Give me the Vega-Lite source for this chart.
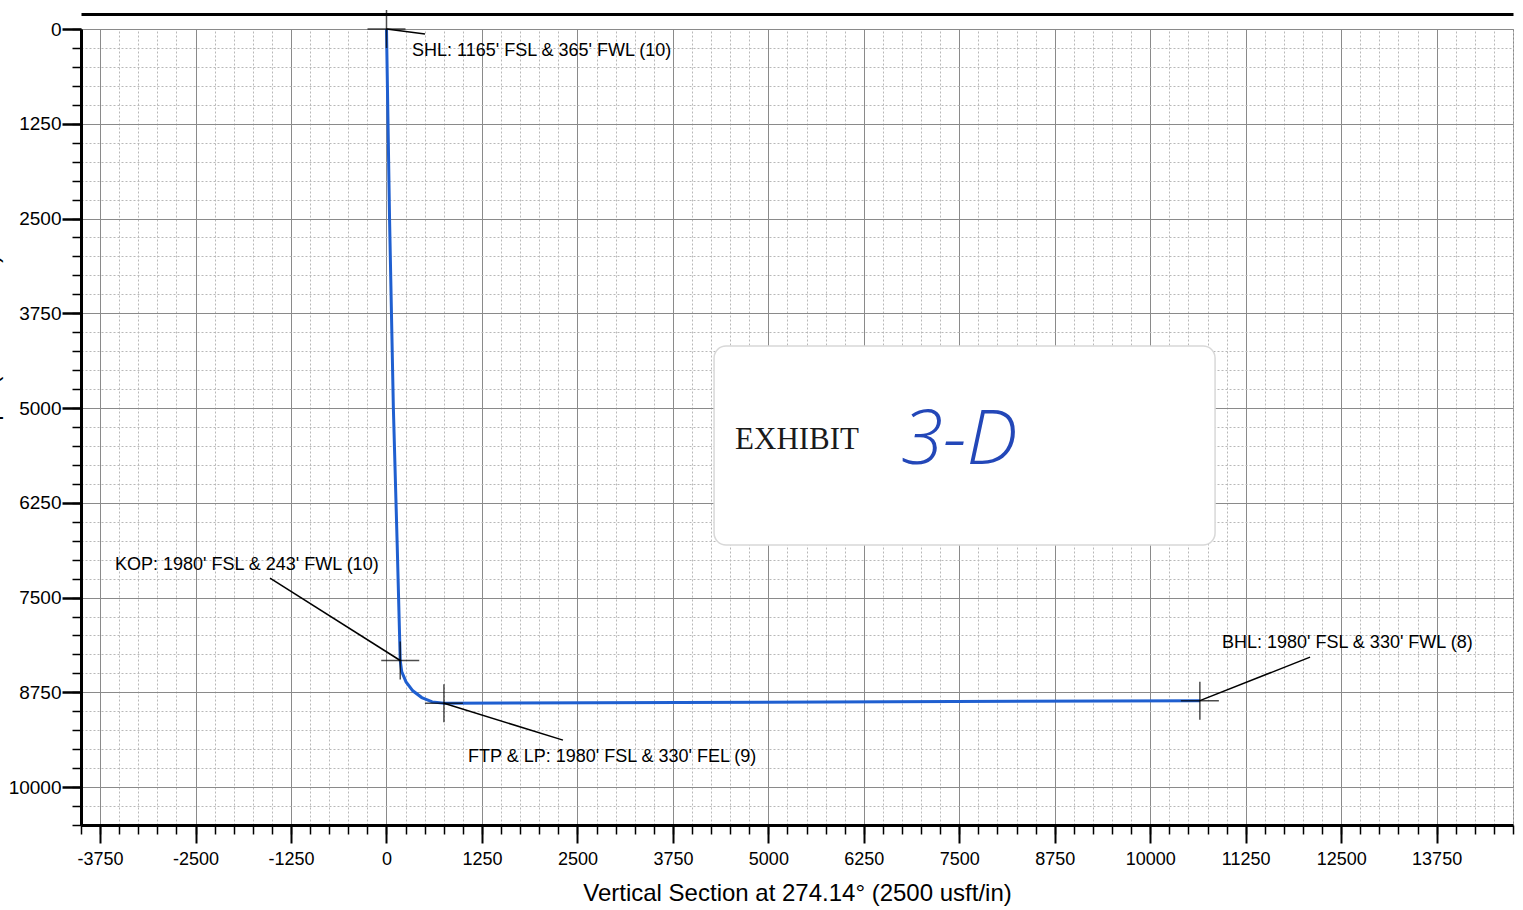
{
  "$schema": "https://vega.github.io/schema/vega-lite/v6.json",
  "width": 1432,
  "height": 796,
  "autosize": "none",
  "padding": {"left": 81, "top": 29, "right": 10, "bottom": 85},
  "background": "white",
  "config": {
    "view": {"stroke": "#888888", "strokeWidth": 1},
    "font": "Liberation Sans",
    "axis": {
      "labelFont": "Liberation Sans",
      "titleFont": "Liberation Sans",
      "labelColor": "black",
      "titleColor": "black",
      "tickColor": "black",
      "domainColor": "black",
      "titleFontWeight": "normal"
    }
  },
  "datasets": {
    "path": [
      {"vs": 0, "tvd": 0},
      {"vs": 40, "tvd": 2500},
      {"vs": 90, "tvd": 5000},
      {"vs": 140, "tvd": 6800},
      {"vs": 180, "tvd": 8330},
      {"vs": 199, "tvd": 8476},
      {"vs": 256, "tvd": 8612},
      {"vs": 345, "tvd": 8730},
      {"vs": 462, "tvd": 8819},
      {"vs": 599, "tvd": 8876},
      {"vs": 752, "tvd": 8895},
      {"vs": 10650, "tvd": 8860}
    ],
    "points": [
      {"name": "SHL", "vs": 0, "tvd": 0, "lvs": 504, "ltvd": 66, "tx": 334, "ty": 290, "label": "SHL: 1165' FSL & 365' FWL (10)"},
      {"name": "KOP", "vs": 180, "tvd": 8330, "lvs": -1525, "ltvd": 7243, "tx": -3555, "ty": 7071, "label": "KOP: 1980' FSL & 243' FWL (10)"},
      {"name": "FTP", "vs": 752, "tvd": 8895, "lvs": 2311, "ltvd": 9380, "tx": 1067, "ty": 9604, "label": "FTP & LP: 1980' FSL & 330' FEL (9)"},
      {"name": "BHL", "vs": 10650, "tvd": 8860, "lvs": 12093, "ltvd": 8285, "tx": 10940, "ty": 8100, "label": "BHL: 1980' FSL & 330' FWL (8)"}
    ],
    "sticker": [
      {"vs": 4289, "vs2": 10849, "tvd": 4182, "tvd2": 6807}
    ],
    "stickertext": [
      {"vs": 4564, "tvd": 5422, "text": "EXHIBIT"}
    ],
    "handwriting": [
      {"vs": 6737, "tvd": 5435, "text": "3-D"}
    ]
  },
  "resolve": {"axis": {"x": "independent", "y": "independent"}},
  "layer": [
    {
      "data": {"name": "path"},
      "mark": {"type": "line", "color": "#1f5fd0", "strokeWidth": 3},
      "encoding": {
        "x": {
          "field": "vs", "type": "quantitative",
          "scale": {"domain": [-4000, 14750], "nice": false, "zero": false},
          "axis": {
            "orient": "bottom", "title": null, "labels": false, "domain": false,
            "values": [-4000,-3750,-3500,-3250,-3000,-2750,-2500,-2250,-2000,-1750,-1500,-1250,-1000,-750,-500,-250,0,250,500,750,1000,1250,1500,1750,2000,2250,2500,2750,3000,3250,3500,3750,4000,4250,4500,4750,5000,5250,5500,5750,6000,6250,6500,6750,7000,7250,7500,7750,8000,8250,8500,8750,9000,9250,9500,9750,10000,10250,10500,10750,11000,11250,11500,11750,12000,12250,12500,12750,13000,13250,13500,13750,14000,14250,14500,14750],
            "tickSize": 9, "tickWidth": 1.5,
            "grid": true, "gridColor": "#b8b8b8", "gridDash": [2, 2], "gridWidth": 1
          }
        },
        "y": {
          "field": "tvd", "type": "quantitative",
          "scale": {"domain": [0, 10500], "nice": false, "zero": false, "reverse": true},
          "axis": {
            "orient": "left", "title": null, "labels": false, "domain": false,
            "values": [0,250,500,750,1000,1250,1500,1750,2000,2250,2500,2750,3000,3250,3500,3750,4000,4250,4500,4750,5000,5250,5500,5750,6000,6250,6500,6750,7000,7250,7500,7750,8000,8250,8500,8750,9000,9250,9500,9750,10000,10250,10500],
            "tickSize": 9, "tickWidth": 1.5,
            "grid": true, "gridColor": "#b8b8b8", "gridDash": [2, 2], "gridWidth": 1
          }
        }
      }
    },
    {
      "data": {"name": "points"},
      "mark": {"type": "tick", "orient": "vertical", "color": "black", "thickness": 1.5, "size": 38},
      "encoding": {
        "x": {
          "field": "vs", "type": "quantitative",
          "scale": {"domain": [-4000, 14750], "nice": false, "zero": false},
          "axis": {
            "orient": "bottom",
            "title": "Vertical Section at 274.14° (2500 usft/in)",
            "titleFontSize": 24, "titlePadding": 13,
            "values": [-3750,-2500,-1250,0,1250,2500,3750,5000,6250,7500,8750,10000,11250,12500,13750],
            "labelFontSize": 18, "labelPadding": 7, "labelExpr": "'' + datum.value",
            "tickSize": 18, "tickWidth": 2,
            "domain": true, "domainWidth": 3,
            "grid": true, "gridColor": "#8a8a8a", "gridWidth": 1
          }
        },
        "y": {
          "field": "tvd", "type": "quantitative",
          "scale": {"domain": [0, 10500], "nice": false, "zero": false, "reverse": true},
          "axis": {
            "orient": "left",
            "title": "True Vertical Depth (2500 usft/in)",
            "titleFontSize": 22, "titleX": -84, "titleY": 387, "titleAngle": 270,
            "titleBaseline": "alphabetic", "titleAlign": "center",
            "values": [0,1250,2500,3750,5000,6250,7500,8750,10000],
            "labelFontSize": 19, "labelPadding": 1, "labelExpr": "'' + datum.value",
            "tickSize": 19, "tickWidth": 2.5,
            "domain": true, "domainWidth": 3,
            "grid": true, "gridColor": "#8a8a8a", "gridWidth": 1
          }
        }
      }
    },
    {
      "data": {"name": "points"},
      "mark": {"type": "tick", "orient": "horizontal", "color": "black", "thickness": 1.5, "size": 38},
      "encoding": {
        "x": {
          "field": "vs", "type": "quantitative",
          "scale": {"domain": [-4000, 14750], "nice": false, "zero": false},
          "axis": {
            "orient": "top", "title": null, "labels": false, "ticks": false, "grid": false,
            "domain": true, "domainWidth": 3, "offset": 15
          }
        },
        "y": {
          "field": "tvd", "type": "quantitative",
          "scale": {"domain": [0, 10500], "nice": false, "zero": false, "reverse": true},
          "axis": null
        }
      }
    },
    {
      "data": {"name": "points"},
      "mark": {"type": "rule", "color": "black", "strokeWidth": 1.5},
      "encoding": {
        "x": {"field": "vs", "type": "quantitative", "scale": {"domain": [-4000, 14750], "nice": false, "zero": false}, "axis": null},
        "y": {"field": "tvd", "type": "quantitative", "scale": {"domain": [0, 10500], "nice": false, "zero": false, "reverse": true}, "axis": null},
        "x2": {"field": "lvs"},
        "y2": {"field": "ltvd"}
      }
    },
    {
      "data": {"name": "points"},
      "mark": {"type": "text", "align": "left", "baseline": "middle", "fontSize": 18, "font": "Liberation Sans", "color": "black"},
      "encoding": {
        "x": {"field": "tx", "type": "quantitative", "scale": {"domain": [-4000, 14750], "nice": false, "zero": false}, "axis": null},
        "y": {"field": "ty", "type": "quantitative", "scale": {"domain": [0, 10500], "nice": false, "zero": false, "reverse": true}, "axis": null},
        "text": {"field": "label"}
      }
    },
    {
      "data": {"name": "sticker"},
      "mark": {"type": "rect", "fill": "white", "stroke": "#d8d8d8", "strokeWidth": 1.5, "cornerRadius": 12},
      "encoding": {
        "x": {"field": "vs", "type": "quantitative", "scale": {"domain": [-4000, 14750], "nice": false, "zero": false}, "axis": null},
        "y": {"field": "tvd", "type": "quantitative", "scale": {"domain": [0, 10500], "nice": false, "zero": false, "reverse": true}, "axis": null},
        "x2": {"field": "vs2"},
        "y2": {"field": "tvd2"}
      }
    },
    {
      "data": {"name": "stickertext"},
      "mark": {"type": "text", "align": "left", "baseline": "middle", "fontSize": 31, "font": "Liberation Serif", "color": "#1a1a1a"},
      "encoding": {
        "x": {"field": "vs", "type": "quantitative", "scale": {"domain": [-4000, 14750], "nice": false, "zero": false}, "axis": null},
        "y": {"field": "tvd", "type": "quantitative", "scale": {"domain": [0, 10500], "nice": false, "zero": false, "reverse": true}, "axis": null},
        "text": {"field": "text"}
      }
    },
    {
      "data": {"name": "handwriting"},
      "mark": {"type": "text", "align": "left", "baseline": "middle", "fontSize": 76, "font": "Open Sans", "fontWeight": 300, "fontStyle": "italic", "color": "#2347b8"},
      "encoding": {
        "x": {"field": "vs", "type": "quantitative", "scale": {"domain": [-4000, 14750], "nice": false, "zero": false}, "axis": null},
        "y": {"field": "tvd", "type": "quantitative", "scale": {"domain": [0, 10500], "nice": false, "zero": false, "reverse": true}, "axis": null},
        "text": {"field": "text"}
      }
    }
  ]
}
